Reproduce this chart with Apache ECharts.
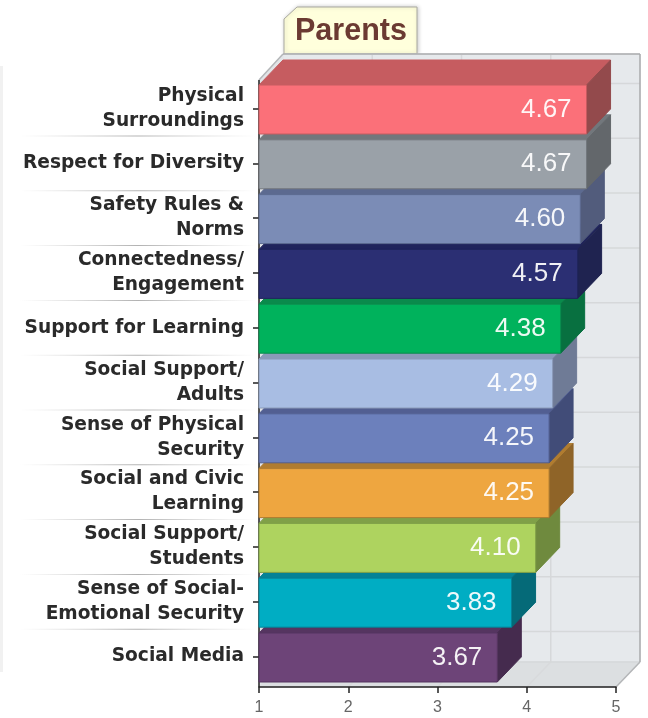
<!DOCTYPE html>
<html>
<head>
<meta charset="utf-8">
<style>
  html, body { margin: 0; padding: 0; background: #fff; }
  #chart { width: 648px; height: 718px; }
</style>
<script src="https://cdn.jsdelivr.net/npm/echarts@6/dist/echarts.min.js"></script>
</head>
<body>
<div id="chart"></div>
<script>
const titleText = "Parents";
const categories = [
  "Physical\nSurroundings", "Respect for Diversity", "Safety Rules &\nNorms",
  "Connectedness/\nEngagement", "Support for Learning", "Social Support/\nAdults",
  "Sense of Physical\nSecurity", "Social and Civic\nLearning", "Social Support/\nStudents",
  "Sense of Social-\nEmotional Security", "Social Media",
];
const values = [4.67, 4.67, 4.60, 4.57, 4.38, 4.29, 4.25, 4.25, 4.10, 3.83, 3.67];
const xTicks = [2, 3, 4];
const frontColors = ["#fb7079", "#9aa1a8", "#7b8cb6", "#2b2f73", "#00b25c", "#a8bde3", "#6c80bc", "#eea640", "#aed35f", "#00adc3", "#6d4478"];
const topColors = ["#c65c60", "#72777c", "#5c6a90", "#20245c", "#0a8a4c", "#8a9ab8", "#525f92", "#b07c30", "#80a048", "#068296", "#553560"];
const sideColors = ["#934a4c", "#63676b", "#525c7c", "#1f2350", "#087040", "#6f7b96", "#414c78", "#8f6428", "#6f8a3e", "#056a78", "#452b4e"];

const DX = 24, DY = 25, BAR_H = 49;
const chart = echarts.init(document.getElementById("chart"));

function poly(points, fill, stroke) {
  return { type: "polygon", shape: { points }, style: { fill, stroke: stroke || fill, lineWidth: 1 } };
}
function line(x1, y1, x2, y2, stroke, lineWidth) {
  return { type: "line", shape: { x1, y1, x2, y2 }, style: { stroke, lineWidth: lineWidth || 1.5 } };
}

// walls, floor, grid lines and the fading rules beside the labels
function renderBackdrop(params, api) {
  const g = params.coordSys;
  const x0 = g.x, x1 = g.x + g.width;
  const top = g.y - 1, bot = g.y + g.height + 3;
  const kids = [
    poly([[x0 + DX, top - DY - 1], [x1 + DX, top - DY - 1], [x1 + DX, bot - DY], [x0 + DX, bot - DY]], "#e6e9ec"),
    poly([[x0, top], [x0 + DX, top - DY - 1], [x0 + DX, bot - DY], [x0, bot]], "#e2e4e7"),
    poly([[x0, bot], [x0 + DX, bot - DY], [x1 + DX, bot - DY], [x1, bot]], "#dcdfe1"),
  ];
  categories.forEach((c, i) => {
    const y = api.coord([1, i])[1];
    kids.push(line(x0 + DX, y - DY, x1 + DX, y - DY, "#d6d8da"));
    if (i < categories.length - 1) {
      kids.push({
        type: "rect", shape: { x: 20, y: y + 27, width: 236, height: 1 },
        style: { fill: new echarts.graphic.LinearGradient(0, 0, 1, 0, [
          { offset: 0, color: "rgba(190,190,190,0)" },
          { offset: 0.5, color: "rgba(170,170,170,0.9)" },
          { offset: 1, color: "rgba(190,190,190,0)" },
        ]) },
      });
    }
  });
  xTicks.forEach(v => {
    const x = api.coord([v, 0])[0];
    kids.push(line(x, bot, x + DX, bot - DY, "#d8dadc"));
    kids.push(line(x + DX, top - DY, x + DX, bot - DY, "#d6d8da"));
  });
  kids.push(line(x0 + DX, bot - DY, x1 + DX, bot - DY, "#d6d8da"));
  kids.push(line(x0, top, x0 + DX, top - DY - 1, "#b4b6b8"));
  kids.push(line(x0 + DX, top - DY - 1, x1 + DX, top - DY - 1, "#a8aaac"));
  kids.push(line(x1 + DX, top - DY - 1, x1 + DX, bot - DY, "#a8aaac"));
  kids.push(line(x1 + DX, bot - DY, x1, bot, "#b4b6b8"));
  kids.push(line(x0, top, x0, bot, "#222"));
  return { type: "group", children: kids };
}

function renderBar(params, api) {
  const i = api.value(1);
  const p0 = api.coord([1, i]);
  const p1 = api.coord([api.value(0), i]);
  const x0 = p0[0], x1 = p1[0];
  const yT = p1[1] + 1 - BAR_H / 2, yB = yT + BAR_H;
  return {
    type: "group",
    children: [
      poly([[x0, yT], [x0 + DX, yT - DY], [x1 + DX, yT - DY], [x1, yT]], topColors[i]),
      poly([[x1, yT], [x1 + DX, yT - DY], [x1 + DX, yB - DY], [x1, yB]], sideColors[i]),
      { type: "rect", shape: { x: x0, y: yT, width: x1 - x0, height: BAR_H },
        style: { fill: frontColors[i], stroke: topColors[i], lineWidth: 1 } },
      { type: "text", x: x1 - 15, y: yT + BAR_H / 2,
        style: { text: values[i].toFixed(2), fill: "#fff", opacity: 0.93, align: "right", verticalAlign: "middle",
          font: "26px 'Liberation Sans', Arial, sans-serif" } },
    ],
  };
}

chart.setOption({
  animation: false,
  backgroundColor: "#fff",
  title: {
    text: titleText, left: 290, top: 11,
    textStyle: { color: "#6b3a32", fontSize: 30.5, fontWeight: "bold", fontFamily: "'Liberation Sans', Arial, sans-serif" },
  },
  grid: { left: 259, top: 81.1, width: 357, height: 602.8 },
  graphic: [
    { type: "polygon", z: 1, shape: { points: [[284, 54], [284, 19], [297, 7], [417, 7], [417, 54]] },
      style: { fill: "#ffffdc", stroke: "#a9a9a0", lineWidth: 1, shadowBlur: 4, shadowOffsetX: 1, shadowColor: "rgba(0,0,0,0.2)" } },
    { type: "rect", z: 0, shape: { x: 0, y: 66, width: 3, height: 606 }, style: { fill: "#f1f1f1" } },
  ],
  xAxis: {
    type: "value", min: 1, max: 5, interval: 1, offset: 3, z: 3,
    axisLine: { show: true, lineStyle: { color: "#222", width: 1.5 } },
    axisTick: { show: true, length: 6, lineStyle: { color: "#222", width: 1.5 } },
    axisLabel: { color: "#666", fontSize: 16, margin: 13, fontFamily: "'Liberation Sans', Arial, sans-serif", showMinLabel: true, showMaxLabel: true },
    splitLine: { show: false },
  },
  yAxis: {
    type: "category", inverse: true, data: categories, z: 3,
    axisLine: { show: false },
    axisTick: { show: true, alignWithLabel: true, length: 6, lineStyle: { color: "#222", width: 1.5 } },
    axisLabel: {
      color: "#2a2a2a", fontSize: 18.6, fontWeight: "bold", lineHeight: 25, margin: 15, align: "right",
      interval: 0, fontFamily: "'DejaVu Sans', sans-serif",
    },
  },
  series: [
    { type: "custom", z: 1, silent: true, renderItem: renderBackdrop, data: [[1, 0]], encode: { x: 0, y: 1 } },
    // painted bottom-up so each bar overlaps the top of the one below
    { type: "custom", z: 4, renderItem: renderBar, encode: { x: 0, y: 1 },
      data: values.map((v, i) => [v, i]).reverse() },
  ],
});
</script>
</body>
</html>
